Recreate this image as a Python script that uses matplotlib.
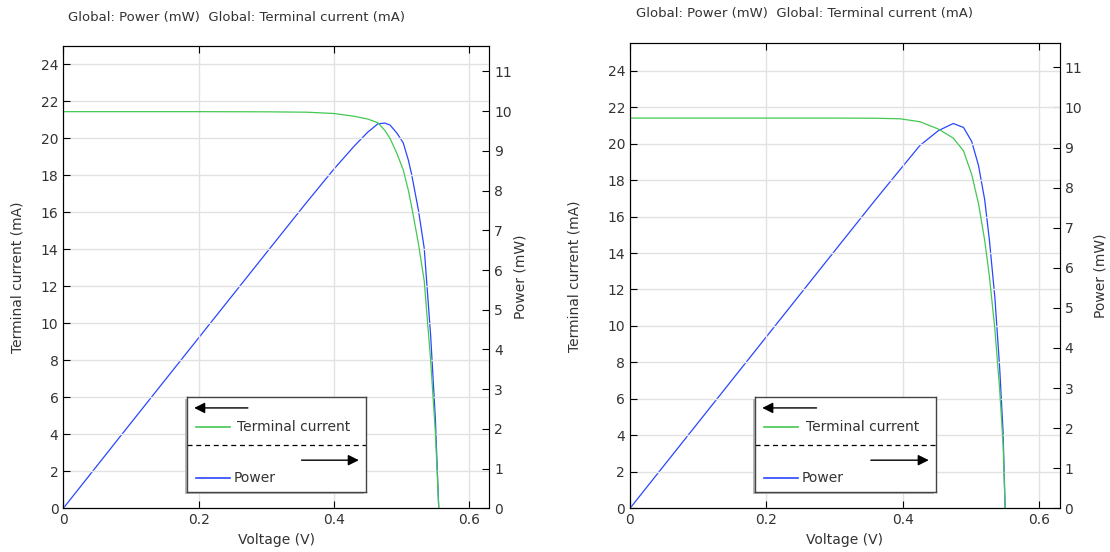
import matplotlib
matplotlib.use("Agg")
import matplotlib.pyplot as plt
from matplotlib.patches import Rectangle

# I-V sweep and power of the cell, two runs (values in V, mA, mW)
volt_a = [0.0, 0.1, 0.2, 0.3, 0.36, 0.40, 0.43, 0.45, 0.465, 0.475, 0.483,
          0.493, 0.5025, 0.51, 0.515, 0.525, 0.5335, 0.543, 0.55, 0.555]
curr_a = [21.45, 21.45, 21.45, 21.44, 21.42, 21.35, 21.2, 21.05, 20.85, 20.45, 20.0,
          19.2, 18.3, 17.2, 16.3, 14.3, 12.3, 8.0, 4.1, 0.0]
power_a = [0.0, 2.15, 4.29, 6.43, 7.71, 8.54, 9.12, 9.47, 9.68, 9.70, 9.65,
           9.45, 9.2, 8.77, 8.4, 7.5, 6.55, 4.35, 2.25, 0.0]

volt_b = [0.0, 0.1, 0.2, 0.3, 0.36, 0.396, 0.425, 0.452, 0.474, 0.489, 0.501,
          0.511, 0.52, 0.527, 0.535, 0.542, 0.547, 0.55]
curr_b = [21.4, 21.4, 21.4, 21.4, 21.39, 21.36, 21.2, 20.8, 20.3, 19.6, 18.3,
          16.7, 14.7, 12.7, 9.8, 6.5, 3.5, 0.0]
power_b = [0.0, 2.14, 4.28, 6.42, 7.7, 8.45, 9.05, 9.42, 9.6, 9.5, 9.15,
           8.55, 7.7, 6.68, 5.25, 3.5, 1.9, 0.0]

xticks = [0, 0.2, 0.4, 0.6]
xticklabels = ["0", "0.2", "0.4", "0.6"]
yticks_left = list(range(0, 25, 2))
yticks_right = list(range(0, 12))

title = "Global: Power (mW)  Global: Terminal current (mA)"
GREEN = "#44c853"
BLUE = "#2a46ff"
TXT = "#333333"

W, H = 1110, 552
fig = plt.figure(figsize=(W / 100, H / 100), dpi=100)


def px(x0, y0, x1, y1):
    # pixel box (top-left origin) -> figure fraction rect
    return [x0 / W, 1 - y1 / H, (x1 - x0) / W, (y1 - y0) / H]


def panel(box, volt, curr, power, ylim_l, ylim_r, title_xy, leg_box, pads):
    ax = fig.add_axes(px(*box))
    ax.plot(volt, curr, color=GREEN, lw=0.9)
    ax.set_xlim(0, 0.63)
    ax.set_ylim(*ylim_l)
    ax.set_xticks(xticks)
    ax.set_xticklabels(xticklabels)
    ax.set_yticks(yticks_left)
    ax.grid(True, color="#e2e2e2", lw=1)
    ax.set_axisbelow(True)
    ax.tick_params(direction="in", length=5, labelsize=10, colors="black",
                   labelcolor=TXT, top=True)
    ax.set_xlabel("Voltage (V)", fontsize=10, color=TXT, labelpad=4)
    ax.set_ylabel("Terminal current (mA)", fontsize=10, color=TXT, labelpad=pads[0])

    ax2 = ax.twinx()
    ax2.plot(volt, power, color=BLUE, lw=0.9)
    ax2.set_ylim(*ylim_r)
    ax2.set_yticks(yticks_right)
    ax2.tick_params(direction="in", length=5, labelsize=10, colors="black",
                    labelcolor=TXT)
    ax2.set_ylabel("Power (mW)", fontsize=10, color=TXT, labelpad=pads[1])
    ax2.spines["right"].set_color("#555555")
    ax.set_zorder(ax2.get_zorder() + 1)
    ax.patch.set_visible(False)

    fig.text(title_xy[0] / W, 1 - title_xy[1] / H, title, fontsize=9.5,
             color=TXT, va="center", ha="left")

    # legend box with axis arrows
    x0, y0, x1, y1 = leg_box
    sh = fig.add_axes(px(x0 - 2, y0 + 2, x1 - 2, y1 + 2))
    sh.set_axis_off()
    sh.add_patch(Rectangle((0, 0), 1, 1, color="#b8b8b8", transform=sh.transAxes))
    sh.set_zorder(9)
    lg = fig.add_axes(px(x0, y0, x1, y1))
    lg.set_zorder(10)
    lg.set_xlim(0, 1)
    lg.set_ylim(0, 1)
    lg.set_xticks([])
    lg.set_yticks([])
    for s in lg.spines.values():
        s.set_color("#444444")
        s.set_linewidth(1)
    lg.annotate("", xy=(0.04, 0.885), xytext=(0.34, 0.885),
                arrowprops=dict(arrowstyle="-|>", color="black", lw=1,
                                mutation_scale=16, shrinkA=0, shrinkB=0))
    lg.plot([0.05, 0.24], [0.685, 0.685], color=GREEN, lw=1.2)
    lg.text(0.28, 0.685, "Terminal current", fontsize=10, color=TXT, va="center")
    lg.plot([0, 1], [0.495, 0.495], color="black", lw=0.9, ls=(0, (4, 3)))
    lg.annotate("", xy=(0.96, 0.335), xytext=(0.64, 0.335),
                arrowprops=dict(arrowstyle="-|>", color="black", lw=1,
                                mutation_scale=16, shrinkA=0, shrinkB=0))
    lg.plot([0.05, 0.24], [0.148, 0.148], color=BLUE, lw=1.2)
    lg.text(0.26, 0.148, "Power", fontsize=10, color=TXT, va="center")


panel((63.3, 46, 489.5, 508.3), volt_a, curr_a, power_a, (0, 25.0), (0, 11.64),
      (68, 17), (187, 397, 366, 492), (12, 1))
panel((630, 43.3, 1059.7, 508.3), volt_b, curr_b, power_b, (0, 25.5), (0, 11.6),
      (636, 13), (755, 397, 936, 492), (19, 8))

fig.savefig("out.png", dpi=100)
